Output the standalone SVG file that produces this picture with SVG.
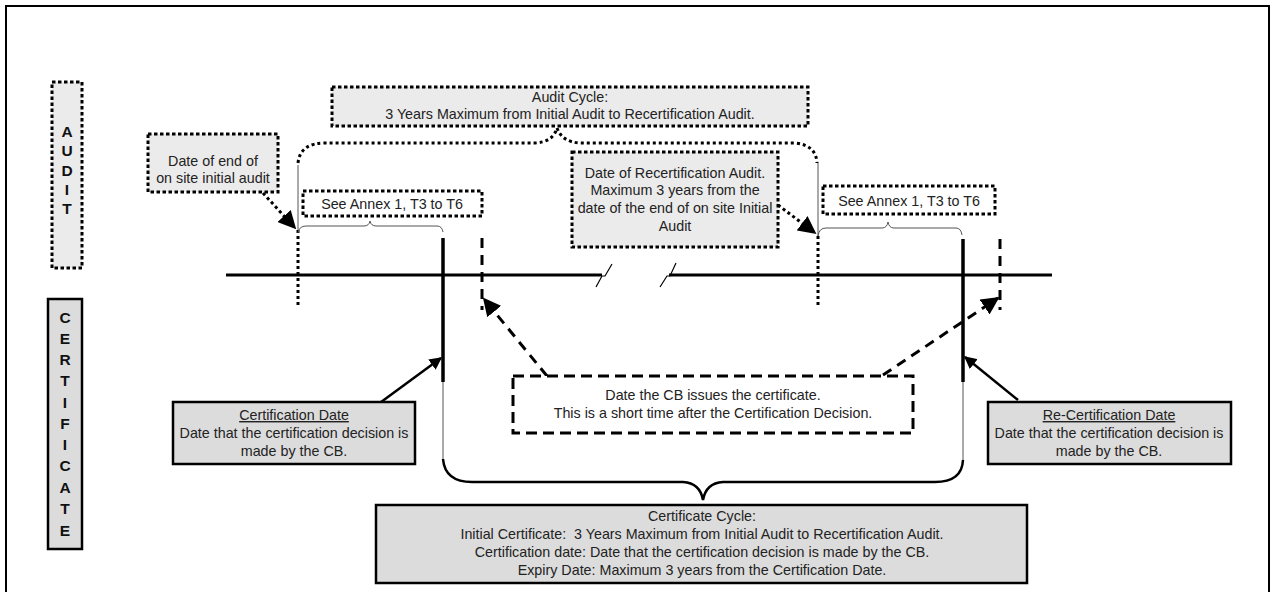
<svg xmlns="http://www.w3.org/2000/svg" width="1277" height="592" viewBox="0 0 1277 592">
<defs>
<style>
text{font-family:"Liberation Sans",Arial,sans-serif;font-size:14.3px;fill:#222;text-anchor:middle}
.lab{font-weight:bold;fill:#111;font-size:15.5px}
.dotbox{fill:#ebebeb;stroke:#000;stroke-width:3;stroke-dasharray:3.5 2.5}
.dotboxw{fill:#fff;stroke:#000;stroke-width:3;stroke-dasharray:3.5 2.5}
.solbox{fill:#dcdcdc;stroke:#000;stroke-width:2.5}
.dashbox{fill:#fff;stroke:#000;stroke-width:3;stroke-dasharray:11 6}
.dot{fill:none;stroke:#000;stroke-width:3;stroke-dasharray:3 3}
.dash{fill:none;stroke:#000;stroke-width:3;stroke-dasharray:10 7}
.thick{fill:none;stroke:#000;stroke-width:3.5}
.thin{fill:none;stroke:#555;stroke-width:1}
.tl{fill:none;stroke:#000;stroke-width:3}
.ar{fill:none;stroke:#000;stroke-width:2.5}
</style>
<marker id="ah" viewBox="0 0 10 10" refX="9" refY="5" markerWidth="6" markerHeight="6" markerUnits="strokeWidth" orient="auto"><path d="M0,0 L10,5 L0,10 z" fill="#000"/></marker>
<marker id="ah2" viewBox="0 0 10 10" refX="9" refY="5" markerWidth="5" markerHeight="5" markerUnits="strokeWidth" orient="auto"><path d="M0,0 L10,5 L0,10 z" fill="#000"/></marker>
</defs>
<rect x="6" y="6" width="1263" height="600" fill="#fff" stroke="#000" stroke-width="2"/>

<g id="audit-label">
<rect class="dotbox" x="52" y="82" width="30" height="186"/>
<text class="lab" x="67" y="137">A</text>
<text class="lab" x="67" y="156">U</text>
<text class="lab" x="67" y="175.5">D</text>
<text class="lab" x="67" y="195">I</text>
<text class="lab" x="67" y="214">T</text>
</g>

<g id="certificate-label">
<rect class="solbox" x="48" y="299" width="34" height="250"/>
<text class="lab" x="65" y="323">C</text>
<text class="lab" x="65" y="344">E</text>
<text class="lab" x="65" y="365">R</text>
<text class="lab" x="65" y="386">T</text>
<text class="lab" x="65" y="408">I</text>
<text class="lab" x="65" y="429">F</text>
<text class="lab" x="65" y="450">I</text>
<text class="lab" x="65" y="471">C</text>
<text class="lab" x="65" y="493">A</text>
<text class="lab" x="65" y="514">T</text>
<text class="lab" x="65" y="536">E</text>
</g>

<g id="connectors">
<path class="tl" d="M226,275 H602"/>
<path class="tl" d="M669,275 H1052"/>
<path fill="none" stroke="#000" stroke-width="1.2" d="M596,287 L602,276 L605,276 L612,264"/>
<path fill="none" stroke="#000" stroke-width="1.2" d="M660,287 L667,276 L670,276 L676,263"/>
<path class="thin" d="M298,165 V232"/>
<path class="dot" d="M298,230 V307"/>
<path class="thin" d="M298,233 Q299,226 306,226 H364 Q369,226 370,221 Q371,226 376,226 H437 Q442,226 443,232"/>
<path class="thick" d="M443,238 V382"/>
<path class="thin" d="M443,382 V460"/>
<path class="dash" d="M482,238 V310"/>
<path class="thin" d="M818,163 V236"/>
<path class="dot" d="M818,236 V307"/>
<path class="thin" d="M818,236 Q819,228 826,228 H882 Q887,228 888,222 Q889,228 894,228 H956 Q961,228 962,235"/>
<path class="thick" d="M963,239 V382"/>
<path class="thin" d="M963,382 V460"/>
<path class="dash" d="M1000,239 V310"/>
<path class="dot" d="M298,163 Q300,143 325,143 H535 Q553,142 557,128 Q562,142 580,143 H795 Q816,145 817,163"/>
<path class="ar" d="M443,459 Q445,482 472,482 H683 Q700,483 703,500 Q706,483 723,482 H935 Q962,482 963,460"/>
<path class="dot" marker-end="url(#ah)" d="M263,193 L295,228"/>
<path class="dot" marker-end="url(#ah)" d="M778,205 L815,233"/>
<path class="ar" marker-end="url(#ah2)" d="M377,405 L441,358"/>
<path class="ar" marker-end="url(#ah2)" d="M1018,400 L965,357"/>
<path class="dash" stroke-dasharray="10 6" marker-end="url(#ah)" d="M547,376 L484,299"/>
<path class="dash" stroke-dasharray="10 6" marker-end="url(#ah)" d="M883,375 L998,298"/>
</g>

<g id="audit-cycle">
<rect class="dotbox" x="332" y="87" width="476" height="39"/>
<text x="570" y="102">Audit Cycle:</text>
<text x="570" y="119">3 Years Maximum from Initial Audit to Recertification Audit.</text>
</g>

<g id="initial-audit-date">
<rect class="dotbox" x="148" y="134" width="130" height="58"/>
<text x="213" y="166">Date of end of</text>
<text x="213" y="183">on site initial audit</text>
</g>

<g id="recert-audit-date">
<rect class="dotbox" x="572" y="152" width="206" height="95"/>
<text x="675" y="178">Date of Recertification Audit.</text>
<text x="675" y="195">Maximum 3 years from the</text>
<text x="675" y="213">date of the end of on site Initial</text>
<text x="675" y="231">Audit</text>
</g>

<g id="annex-left">
<rect class="dotboxw" x="303" y="191" width="179" height="25"/>
<text x="392" y="209">See Annex 1, T3 to T6</text>
</g>

<g id="annex-right">
<rect class="dotboxw" x="823" y="186" width="172" height="28"/>
<text x="909" y="206">See Annex 1, T3 to T6</text>
</g>

<g id="certification-date">
<rect class="solbox" x="173" y="402" width="242" height="62"/>
<text x="294" y="420" text-decoration="underline">Certification Date</text>
<text x="294" y="438">Date that the certification decision is</text>
<text x="294" y="456">made by the CB.</text>
</g>

<g id="recertification-date">
<rect class="solbox" x="988" y="402" width="243" height="62"/>
<text x="1109" y="420" text-decoration="underline">Re-Certification Date</text>
<text x="1109" y="438">Date that the certification decision is</text>
<text x="1109" y="456">made by the CB.</text>
</g>

<g id="issue-date">
<rect class="dashbox" x="513" y="376" width="400" height="57"/>
<text x="713" y="400">Date the CB issues the certificate.</text>
<text x="713" y="418">This is a short time after the Certification Decision.</text>
</g>

<g id="certificate-cycle">
<rect class="solbox" x="376" y="505" width="651" height="78"/>
<text x="702" y="521">Certificate Cycle:</text>
<text x="702" y="539" xml:space="preserve">Initial Certificate:  3 Years Maximum from Initial Audit to Recertification Audit.</text>
<text x="702" y="557">Certification date: Date that the certification decision is made by the CB.</text>
<text x="702" y="575">Expiry Date: Maximum 3 years from the Certification Date.</text>
</g>
</svg>
